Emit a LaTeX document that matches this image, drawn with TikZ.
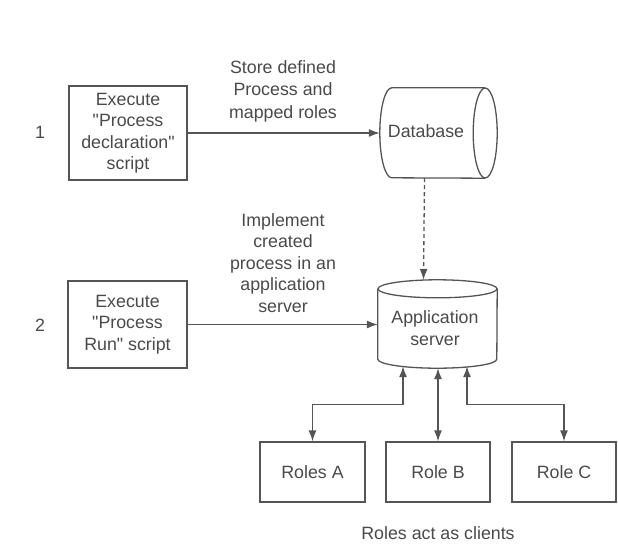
\documentclass[tikz,border=0pt]{standalone}
\usepackage{fontspec}
\setmainfont{Liberation Sans}[Ligatures=TeXOff]
\usetikzlibrary{arrows.meta}

\definecolor{linegray}{HTML}{555555}
\definecolor{textgray}{HTML}{4A4A4A}

\tikzset{
    box/.style={draw=linegray, line width=1.3pt, align=center, inner sep=0pt},
    slot/.style={inner sep=0pt},
    outline/.style={draw=linegray, line width=1.3pt},
    label text/.style={align=center, text=textgray},
    link/.style={draw=linegray, line width=1.3pt, -{Latex[length=11pt,width=8pt]}},
    twoway/.style={draw=linegray, line width=1.3pt, {Latex[length=11pt,width=8pt]}-{Latex[length=11pt,width=8pt]}},
}

\begin{document}
\begin{tikzpicture}[x=1pt, y=1pt, font=\fontsize{17.8}{21.5}\selectfont, text=textgray]
            \useasboundingbox[fill=white] (0,0) rectangle (618,-544);

            % Step numbers
            \node (one) at (40,-132) {1};
            \node (two) at (40,-325) {2};

            % Scripts
            \node[box, minimum width=118pt, minimum height=94pt] (declare) at (128,-133)
                {Execute\\"Process\\declaration"\\script};
            \node[box, minimum width=119pt, minimum height=87pt] (run) at (127.5,-324.5)
                {Execute\\"Process\\Run" script};

            % Database (lying cylinder)
            \node[slot, minimum width=117pt, minimum height=90pt] (db) at (438.5,-133) {};
            \draw[outline] ([xshift=-12pt]db.north east) -- ([xshift=12pt]db.north west)
                arc[start angle=90, end angle=270, x radius=12pt, y radius=45pt]
                -- ([xshift=-12pt]db.south east);
            \draw[outline] ([xshift=-12pt]db.east) ellipse[x radius=12pt, y radius=45pt];
            \node (dbtext) at (426,-131) {Database};

            % Application server (standing cylinder)
            \node[slot, minimum width=119pt, minimum height=88pt] (app) at (437.5,-324) {};
            \draw[outline] ([yshift=-9pt]app.north west) -- ([yshift=9pt]app.south west)
                arc[start angle=180, end angle=360, x radius=59.5pt, y radius=9pt]
                -- ([yshift=-9pt]app.north east);
            \draw[outline] ([yshift=-9pt]app.north) ellipse[x radius=59.5pt, y radius=9pt];
            \node[align=center] (apptext) at (435,-328) {Application\\server};

            % Roles
            \node[box, minimum width=105pt, minimum height=60pt] (rolea) at (312.5,-472) {Roles A};
            \node[box, minimum width=104pt, minimum height=60pt] (roleb) at (438,-472) {Role B};
            \node[box, minimum width=104pt, minimum height=60pt] (rolec) at (564,-472) {Role C};

            % Labels
            \node[label text, font=\fontsize{17.8}{22.5}\selectfont] (storetext) at (283,-91) {Store defined\\Process and\\mapped roles};
            \node[label text] (implement) at (283,-263) {Implement\\created\\process in an\\application\\server};
            \node (clients) at (438,-533) {Roles act as clients};

            % Connectors
            \draw[link] (declare.east) -- (declare.east -| db.west);
            \draw[link] (run.east) -- (run.east -| app.west);
            \draw[link, dash pattern=on 4pt off 3pt] ([xshift=-14pt]db.south) -- ([xshift=-14pt]app.north);
            \draw[twoway] (rolea.north) -- ++(0,37) -| ([xshift=-34.5pt,yshift=2pt]app.south);
            \draw[twoway] (roleb.north) -- (roleb.north |- app.south);
            \draw[twoway] (rolec.north) -- ++(0,37) -| ([xshift=29.5pt,yshift=2pt]app.south);

        \end{tikzpicture}
\end{document}
